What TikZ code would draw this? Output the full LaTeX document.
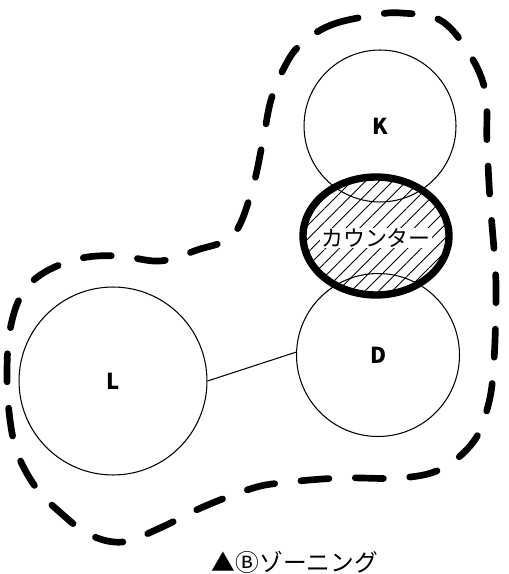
\documentclass[tikz,border=0pt]{standalone}
\usepackage{fontspec}
\setmainfont{Noto Sans CJK JP}
\usetikzlibrary{shapes.geometric,patterns.meta}

\begin{document}
\begin{tikzpicture}[x=0.02cm,y=-0.02cm,
   room/.style={draw,circle,line width=0.6pt,inner sep=0pt,font=\bfseries\fontsize{12.5}{13}\selectfont},
   counter/.style={draw,ellipse,line width=4.2pt,minimum width=2.92cm,minimum height=2.36cm,
     pattern={Lines[angle=45,distance=5.5pt,line width=0.5pt]}},
   zone/.style={line width=3.8pt,dash pattern=on 16pt off 15pt,line cap=round}]
  \useasboundingbox (0,0) rectangle (509,574);
  % rooms
  \node[room,minimum size=3.04cm] (K) at (380,126) {K};
  \node[room,minimum size=3.26cm] (D) at (378,355) {D};
  \node[room,minimum size=3.76cm] (L) at (113,381) {L};
  \draw[line width=0.6pt] (L.east) -- (D.178);
  % counter between K and D
  \node[counter] (C) at (376,236) {};
  \node[fill=white,inner sep=0.5pt,font=\fontsize{12.5}{13}\selectfont] (Ctext) at (376,238) {カウンター};
  % zone outline
  \draw[zone] plot[smooth cycle,tension=0.6] coordinates {
     (300,45) (331,25) (375,15) (401,13) (440,20) (467,50) (485,90) (487,143)
     (490,200) (495,263) (496,300) (494,360) (489,402) (474,441) (441,469)
     (400,478) (340,478) (280,483) (250,489) (203,507) (160,528) (123,542)
     (90,535) (62,514) (37,489) (18,455) (10,420) (7,375) (10,330) (22,294)
     (45,272) (82,258) (120,256) (160,261) (197,250) (233,235) (252,190)
     (263,140) (271,100) (284,68)};
  % caption
  \node[font=\fontsize{13.5}{14}\selectfont] (cap) at (295,562) {▲Ⓑゾーニング};
\end{tikzpicture}
\end{document}
